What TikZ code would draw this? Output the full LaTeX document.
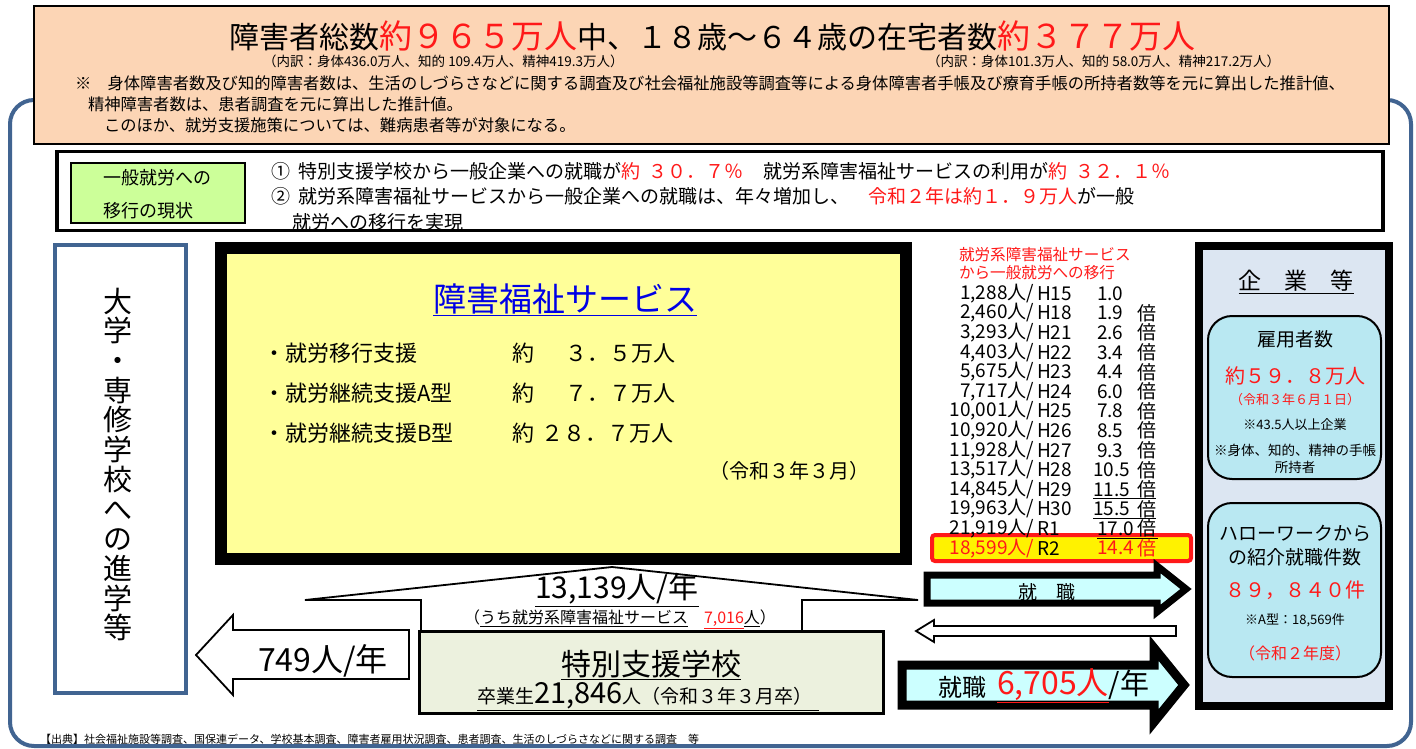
\documentclass[tikz,border=0pt]{standalone}
\usepackage{fontspec}
\setmainfont{Noto Sans CJK JP}
\usepackage{graphicx}
\definecolor{frameblue}{RGB}{65,100,145}
\definecolor{peach}{RGB}{252,213,181}
\definecolor{lgreen}{RGB}{204,255,153}
\definecolor{lyellow}{RGB}{255,255,153}
\definecolor{panelbg}{RGB}{220,230,242}
\definecolor{cyanbox}{RGB}{185,232,242}
\definecolor{arrowcyan}{RGB}{204,255,255}
\definecolor{schoolbg}{RGB}{236,241,222}
\definecolor{jred}{RGB}{255,25,25}
\definecolor{tblue}{RGB}{0,0,230}
\newcommand\myfs[1]{\fontsize{#1}{\dimexpr #1pt*6/5\relax}\selectfont}
\newcommand\lrow[5]{%
  \node[t,anchor=east] (num#2) at (1034,#1) {#3人/};
  \node[tw] (era#2) at (1037,#1) {#2};
  \node[tw] (mul#2) at (#5,#1) {#4};
}
\begin{document}
\begin{tikzpicture}[x=1pt,y=-1pt,
  t/.style={inner sep=0pt,outer sep=0pt},
  tw/.style={t,anchor=west},
  box/.style={draw=black,inner sep=0pt,outer sep=0pt},
  blockarrow/.style={draw=black,line join=miter},
]
\useasboundingbox (0,0) rectangle (1416,749);
\fill[white] (0,0) rectangle (1416,749);

% outer frame
\draw[frameblue,line width=4pt,rounded corners=24pt] (10,100) rectangle (1411,746);

% header box
\node[box,line width=2.5pt,fill=peach,minimum width=1355pt,minimum height=138pt] (head) at (711.5,75) {};
\node[t] (title) at (712,36) {\myfs{30}障害者総数{\color{jred}\myfs{33}約９６５万人}中、１８歳～６４歳の在宅者数{\color{jred}\myfs{33}約３７７万人}};
\node[tw] (bd1) at (263,61) {\myfs{13.5}（内訳：身体436.0万人、知的 109.4万人、精神419.3万人）};
\node[tw] (bd2) at (927,61) {\myfs{13.5}（内訳：身体101.3万人、知的 58.0万人、精神217.2万人）};
\node[tw] (note1) at (75,83) {\myfs{16.3}※　身体障害者数及び知的障害者数は、生活のしづらさなどに関する調査及び社会福祉施設等調査等による身体障害者手帳及び療育手帳の所持者数等を元に算出した推計値、};
\node[tw] (note2) at (88,104) {\myfs{16.3}精神障害者数は、患者調査を元に算出した推計値。};
\node[tw] (note3) at (104,125) {\myfs{16.3}このほか、就労支援施策については、難病患者等が対象になる。};

% current status box
\node[box,line width=3.5pt,fill=white,minimum width=1326pt,minimum height=79pt] (status) at (720,191) {};
\node[box,line width=2pt,fill=lgreen,minimum width=174pt,minimum height=60pt] (label) at (158,193) {};
\node[tw] (lab1) at (103,178) {\myfs{18}一般就労への};
\node[tw] (lab2) at (103,211) {\myfs{18}移行の現状};
\node[tw] (st1) at (271,171) {\myfs{19}①\hspace{8pt}特別支援学校から一般企業への就職が{\color{jred}約\hspace{9pt}３０．７％}　就労系障害福祉サービスの利用が{\color{jred}約\hspace{9pt}３２．１％}};
\node[tw] (st2) at (271,196) {\myfs{19}②\hspace{8pt}就労系障害福祉サービスから一般企業への就職は、年々増加し、　{\color{jred}令和２年は約１．９万人}が一般};
\node[tw] (st3) at (292,222) {\myfs{19}就労への移行を実現};

% university box
\node[box,draw=frameblue,line width=4pt,fill=white,minimum width=131pt,minimum height=448pt] (univ) at (120.5,469) {};
\node[t,align=center,font=\fontsize{29}{29.7}\selectfont] (univtxt) at (118,464.5) {大\\学\\・\\専\\修\\学\\校\\へ\\の\\進\\学\\等};

% welfare services box
\node[box,line width=12pt,fill=lyellow,minimum width=685pt,minimum height=311pt] (svc) at (563.5,403.5) {};
\node[t] (svct) at (565,300) {\myfs{33}\color{tblue}\underline{障害福祉サービス}};
\node[tw] (i1) at (263,353) {\myfs{22}・就労移行支援};
\node[tw] (i2) at (263,393) {\myfs{22}・就労継続支援A型};
\node[tw] (i3) at (263,433) {\myfs{22}・就労継続支援B型};
\node[tw] (a1) at (512,353) {\myfs{22}約\hspace{31pt}３．５万人};
\node[tw] (a2) at (512,393) {\myfs{22}約\hspace{31pt}７．７万人};
\node[tw] (a3) at (512,433) {\myfs{22}約\hspace{8pt}２８．７万人};
\node[tw] (svcd) at (709,471) {\myfs{20}（令和３年３月）};

% transition list
\node[tw] (lt1) at (959,255) {\myfs{15.6}\color{jred}就労系障害福祉サービス};
\node[tw] (lt2) at (959,273) {\myfs{15.6}\color{jred}から一般就労への移行};
\node[box,draw=jred,line width=4pt,fill=yellow,rounded corners=3pt,minimum width=259pt,minimum height=26pt] (hl) at (1061.5,548) {};
\begin{scope}[every node/.append style={font=\myfs{19}}]
\lrow{293.5}{H15}{1,288}{1.0}{1097}
\lrow{313.1}{H18}{2,460}{1.9}{1097}
\lrow{332.7}{H21}{3,293}{2.6}{1097}
\lrow{352.3}{H22}{4,403}{3.4}{1097}
\lrow{371.9}{H23}{5,675}{4.4}{1097}
\lrow{391.5}{H24}{7,717}{6.0}{1097}
\lrow{411.1}{H25}{10,001}{7.8}{1097}
\lrow{430.7}{H26}{10,920}{8.5}{1097}
\lrow{450.3}{H27}{11,928}{9.3}{1097}
\lrow{469.9}{H28}{13,517}{10.5}{1093}
\lrow{489.5}{H29}{14,845}{11.5}{1093}
\lrow{509.1}{H30}{19,963}{15.5}{1093}
\lrow{528.7}{R1}{21,919}{17.0}{1097}
\foreach \yy/\nm in {313.1/H18,332.7/H21,352.3/H22,371.9/H23,391.5/H24,411.1/H25,430.7/H26,450.3/H27,469.9/H28,489.5/H29,509.1/H30,528.7/R1}
  \node[tw] (bai\nm) at (1137,\yy) {倍};
\node[t,anchor=east] (numR2) at (1034,548.3) {\color{jred}18,599人/};
\node[tw] (eraR2) at (1037,548.3) {R2};
\node[tw] (mulR2) at (1097,548.3) {\color{jred}14.4};
\node[tw] (baiR2) at (1137,548.3) {\color{jred}倍};
\end{scope}
\draw[line width=1pt] (1093,498.5) -- (1156,498.5);
\draw[line width=1pt] (1093,518) -- (1156,518);
\draw[line width=1pt] (1097,538) -- (1158,538);

% companies panel
\node[box,line width=8pt,fill=panelbg,minimum width=190pt,minimum height=460pt] (corp) at (1294,476) {};
\node[t] (corpt) at (1296,282) {\myfs{23}\underline{企　業　等}};
\node[box,line width=2pt,fill=cyanbox,rounded corners=24pt,minimum width=173pt,minimum height=163pt] (emp) at (1294.5,397.5) {};
\node[t] (emp1) at (1295,339) {\myfs{19}雇用者数};
\node[t] (emp2) at (1295,376) {\myfs{20}\color{jred}約５９．８万人};
\node[t] (emp3) at (1295,400) {\myfs{13}\color{jred}（令和３年６月１日）};
\node[t] (emp4) at (1295,425) {\myfs{13}※43.5人以上企業};
\node[t] (emp5) at (1295,450) {\myfs{13.5}※身体、知的、精神の手帳};
\node[t] (emp6) at (1295,467) {\myfs{13.5}所持者};
\node[box,line width=2pt,fill=cyanbox,rounded corners=24pt,minimum width=173pt,minimum height=174pt] (hw) at (1294.5,590) {};
\node[t] (hw1) at (1295,533) {\myfs{19}ハローワークから};
\node[t] (hw2) at (1295,557) {\myfs{19}の紹介就職件数};
\node[t] (hw3) at (1295,590) {\myfs{20}\color{jred}８９，８４０件};
\node[t] (hw4) at (1295,620) {\myfs{13}※A型：18,569件};
\node[t] (hw5) at (1295,653) {\myfs{16}\color{jred}（令和２年度）};

% up arrow school -> services
\draw[blockarrow,line width=1.8pt,fill=white] (612,567) -- (918,600) -- (802,600) -- (802,632) -- (421,632) -- (421,600) -- (305,600) -- cycle;
% left arrow to university
\draw[blockarrow,line width=1.8pt,fill=white] (196,655) -- (233,615) -- (233,630) -- (409,630) -- (409,679) -- (233,679) -- (233,695) -- cycle;
% employment arrows
\draw[blockarrow,line width=7pt,fill=arrowcyan] (927,575) -- (1157,575) -- (1157,566) -- (1186,589) -- (1157,612) -- (1157,603) -- (927,603) -- cycle;
\draw[blockarrow,line width=1.8pt,fill=white] (916,631) -- (934,620) -- (934,626) -- (1176,626) -- (1176,636) -- (934,636) -- (934,642) -- cycle;
\draw[blockarrow,line width=9pt,fill=arrowcyan] (902,665) -- (1154,665) -- (1154,648) -- (1184,685) -- (1154,722) -- (1154,705) -- (902,705) -- cycle;

% school box
\node[box,line width=3pt,fill=schoolbg,minimum width=464pt,minimum height=82pt] (school) at (651.5,672.5) {};
\node[t] (schoolt) at (651,665) {\myfs{30}\underline{特別支援学校}};
\node[tw] (grad) at (477,697) {\underline{\myfs{19}卒業生\myfs{29}21,846\myfs{19}人（令和３年３月卒）\hspace{6pt}}};

% arrow labels
\node[t] (n13139) at (617,590) {\myfs{30}\underline{13,139人/年}};
\node[t] (nuchi) at (620,619) {\myfs{16}（\underline{うち就労系障害福祉サービス\vphantom{人}}　{\color{jred}\underline{7,016\vphantom{人}}}\underline{人}）};
\node[t] (n749) at (323,662) {\myfs{32}\underline{749人/年}};
\node[t] (job1) at (1047,592) {\myfs{19}就　職};
\node[tw] (job2) at (938,687) {\myfs{24}就職};
\node[tw] (job3) at (997,686) {{\color{jred}\myfs{32}\underline{6,705人}}\myfs{29}\underline{/年\vphantom{人}}};

% source
\node[tw] (src) at (40,739) {\myfs{11}【出典】社会福祉施設等調査、国保連データ、学校基本調査、障害者雇用状況調査、患者調査、生活のしづらさなどに関する調査　等};
\end{tikzpicture}
\end{document}
